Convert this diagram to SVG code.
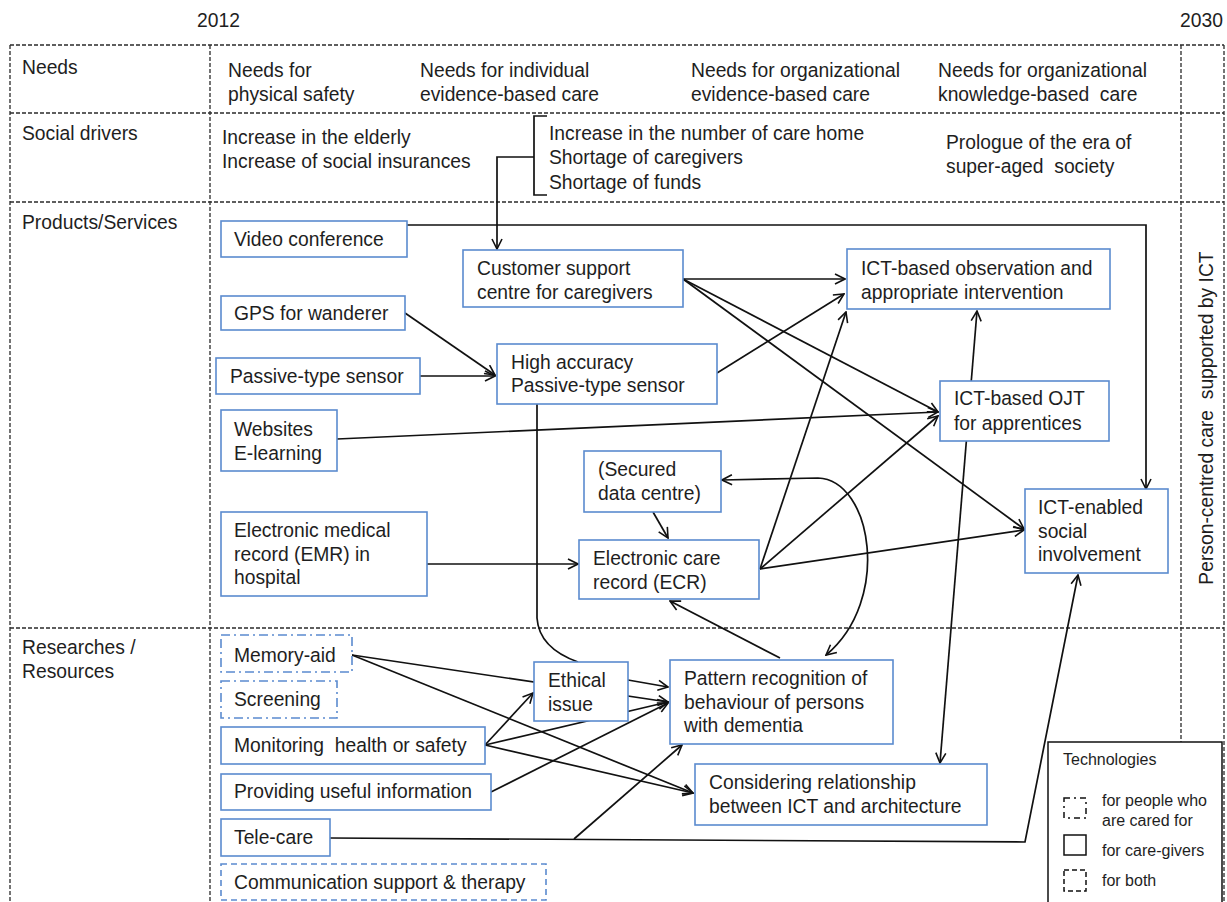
<svg xmlns="http://www.w3.org/2000/svg" width="1227" height="902" viewBox="0 0 1227 902">
  <style>
    .grid { stroke: #2a2a2a; stroke-width: 1.3; stroke-dasharray: 4 2; fill: none; }
    .box { fill: #ffffff; stroke: #5b8bcf; stroke-width: 1.6; }
    .dd { stroke-dasharray: 9 4 2 4; }
    .dash { stroke-dasharray: 6 4; }
    .t { font-family: "Liberation Sans", Arial, sans-serif; font-size: 19.3px; fill: #1e1e1e; }
    .lg { font-family: "Liberation Sans", Arial, sans-serif; font-size: 16px; fill: #1e1e1e; }
    .c { fill: none; stroke: #111111; stroke-width: 1.7; }
    .a { marker-end: url(#arr); }
    .aa { marker-start: url(#arr); marker-end: url(#arr); }
    .li { fill: #ffffff; stroke: #111111; stroke-width: 1.5; }
  </style>
  <defs>
    <marker id="arr" viewBox="0 0 12 12" refX="11" refY="6" markerWidth="12" markerHeight="12" markerUnits="userSpaceOnUse" orient="auto-start-reverse">
      <path d="M1,1 L11,6 L1,11" fill="none" stroke="#111111" stroke-width="1.6"/>
    </marker>
  </defs>
  <rect width="1227" height="902" fill="#ffffff"/>

  <!-- timeline -->
  <text class="t" x="197" y="27">2012</text>
  <text class="t" x="1180" y="27">2030</text>

  <!-- table frame -->
  <g id="table">
    <line class="grid" x1="10" y1="45" x2="1224" y2="45"/>
    <line class="grid" x1="10" y1="113" x2="1224" y2="113"/>
    <line class="grid" x1="10" y1="202" x2="1224" y2="202"/>
    <line class="grid" x1="10" y1="628" x2="1224" y2="628"/>
    <line class="grid" x1="10" y1="45" x2="10" y2="902"/>
    <line class="grid" x1="210" y1="45" x2="210" y2="902"/>
    <line class="grid" x1="1181" y1="45" x2="1181" y2="902"/>
    <line class="grid" x1="1224" y1="45" x2="1224" y2="902"/>
  </g>

  <!-- row headings -->
  <g id="rows">
    <text class="t" x="22" y="74">Needs</text>
    <text class="t" x="22" y="140">Social drivers</text>
    <text class="t" x="22" y="229">Products/Services</text>
    <text class="t" x="22" y="654">Researches /</text>
    <text class="t" x="22" y="678">Resources</text>
  </g>

  <!-- needs -->
  <g id="needs">
    <text class="t" x="228" y="77">Needs for</text>
    <text class="t" x="228" y="101">physical safety</text>
    <text class="t" x="420" y="77">Needs for individual</text>
    <text class="t" x="420" y="101">evidence-based care</text>
    <text class="t" x="691" y="77">Needs for organizational</text>
    <text class="t" x="691" y="101">evidence-based care</text>
    <text class="t" x="938" y="77">Needs for organizational</text>
    <text class="t" x="938" y="101" xml:space="preserve">knowledge-based  care</text>
  </g>

  <!-- social drivers -->
  <g id="drivers">
    <text class="t" x="222" y="144">Increase in the elderly</text>
    <text class="t" x="222" y="168">Increase of social insurances</text>
    <text class="t" x="549" y="140">Increase in the number of care home</text>
    <text class="t" x="549" y="164">Shortage of caregivers</text>
    <text class="t" x="549" y="189">Shortage of funds</text>
    <text class="t" x="946" y="149">Prologue of the era of</text>
    <text class="t" x="946" y="173" xml:space="preserve">super-aged  society</text>
    <path class="c" d="M547,116 H534 V195 H547"/>
  </g>

  <!-- vertical goal label -->
  <text class="t" transform="translate(1213,418) rotate(-90)" text-anchor="middle" xml:space="preserve">Person-centred care  supported by ICT</text>

  <!-- connectors -->
  <g id="connectors">
    <path class="c a" d="M534,157 H497 V249"/>
    <path class="c a" d="M407,225 H1146 V489"/>
    <path class="c a" d="M683,279 L845,279"/>
    <path class="c a" d="M683,279 L938,412"/>
    <path class="c a" d="M683,279 L1024,529"/>
    <path class="c a" d="M405,313 L495,375"/>
    <path class="c a" d="M420,376 L495,376"/>
    <path class="c a" d="M717,373 L844,294"/>
    <path class="c a" d="M337,439 L938,412"/>
    <path class="c" d="M537,404 V618 Q539,648 578,662"/>
    <path class="c a" d="M427,564 L578,564"/>
    <path class="c a" d="M653,512 L668,538"/>
    <path class="c a" d="M760,569 L846,312"/>
    <path class="c a" d="M760,569 L938,416"/>
    <path class="c a" d="M760,569 L1024,530"/>
    <path class="c aa" d="M722,480 L818,478 C872,480 892,600 826,655"/>
    <path class="c a" d="M780,658 L670,601"/>
    <path class="c aa" d="M977,311 L940,763"/>
    <path class="c a" d="M352,655 L668,702"/>
    <path class="c a" d="M352,655 L693,793"/>
    <path class="c a" d="M628,680 L668,687"/>
    <path class="c a" d="M485,745 L533,693"/>
    <path class="c a" d="M485,745 L668,702"/>
    <path class="c a" d="M485,745 L693,793"/>
    <path class="c a" d="M491,792 L668,703"/>
    <path class="c a" d="M574,839 L682,745"/>
    <path class="c a" d="M330,838 L1025,842 L1078,575"/>
  </g>

  <!-- nodes -->
  <g id="video-conference">
    <rect class="box" x="221" y="221" width="186" height="36"/>
    <text class="t" x="234" y="246">Video conference</text>
  </g>
  <g id="customer-support">
    <rect class="box" x="463" y="250" width="220" height="57"/>
    <text class="t" x="477" y="275">Customer support</text>
    <text class="t" x="477" y="299">centre for caregivers</text>
  </g>
  <g id="ict-observation">
    <rect class="box" x="847" y="249" width="263" height="60"/>
    <text class="t" x="861" y="275">ICT-based observation and</text>
    <text class="t" x="861" y="299">appropriate intervention</text>
  </g>
  <g id="gps">
    <rect class="box" x="221" y="296" width="184" height="34"/>
    <text class="t" x="234" y="320">GPS for wanderer</text>
  </g>
  <g id="passive-sensor">
    <rect class="box" x="216" y="358" width="204" height="36"/>
    <text class="t" x="230" y="383">Passive-type sensor</text>
  </g>
  <g id="high-accuracy-sensor">
    <rect class="box" x="497" y="344" width="220" height="60"/>
    <text class="t" x="511" y="369">High accuracy</text>
    <text class="t" x="511" y="392">Passive-type sensor</text>
  </g>
  <g id="ict-ojt">
    <rect class="box" x="940" y="381" width="169" height="60"/>
    <text class="t" x="954" y="405">ICT-based OJT</text>
    <text class="t" x="954" y="430">for apprentices</text>
  </g>
  <g id="websites">
    <rect class="box" x="221" y="410" width="116" height="61"/>
    <text class="t" x="234" y="436">Websites</text>
    <text class="t" x="234" y="460">E-learning</text>
  </g>
  <g id="data-centre">
    <rect class="box" x="584" y="451" width="137" height="61"/>
    <text class="t" x="598" y="476">(Secured</text>
    <text class="t" x="598" y="500">data centre)</text>
  </g>
  <g id="ict-social">
    <rect class="box" x="1025" y="489" width="143" height="84"/>
    <text class="t" x="1038" y="514">ICT-enabled</text>
    <text class="t" x="1038" y="538">social</text>
    <text class="t" x="1038" y="561">involvement</text>
  </g>
  <g id="emr">
    <rect class="box" x="221" y="512" width="206" height="84"/>
    <text class="t" x="234" y="537">Electronic medical</text>
    <text class="t" x="234" y="561">record (EMR) in</text>
    <text class="t" x="234" y="584">hospital</text>
  </g>
  <g id="ecr">
    <rect class="box" x="579" y="540" width="180" height="59"/>
    <text class="t" x="593" y="565">Electronic care</text>
    <text class="t" x="593" y="589">record (ECR)</text>
  </g>
  <g id="memory-aid">
    <rect class="box dd" x="221" y="635" width="131" height="37"/>
    <text class="t" x="234" y="662">Memory-aid</text>
  </g>
  <g id="screening">
    <rect class="box dd" x="221" y="681" width="116" height="37"/>
    <text class="t" x="234" y="706">Screening</text>
  </g>
  <g id="ethical-issue">
    <rect class="box" x="534" y="662" width="94" height="59"/>
    <text class="t" x="548" y="687">Ethical</text>
    <text class="t" x="548" y="711">issue</text>
  </g>
  <g id="pattern-recognition">
    <rect class="box" x="670" y="660" width="223" height="84"/>
    <text class="t" x="684" y="685">Pattern recognition of</text>
    <text class="t" x="684" y="709">behaviour of persons</text>
    <text class="t" x="684" y="732">with dementia</text>
  </g>
  <g id="monitoring">
    <rect class="box" x="221" y="727" width="264" height="37"/>
    <text class="t" x="234" y="752" xml:space="preserve">Monitoring  health or safety</text>
  </g>
  <g id="useful-information">
    <rect class="box" x="221" y="774" width="270" height="36"/>
    <text class="t" x="234" y="798">Providing useful information</text>
  </g>
  <g id="ict-architecture">
    <rect class="box" x="695" y="764" width="292" height="61"/>
    <text class="t" x="709" y="789">Considering relationship</text>
    <text class="t" x="709" y="813">between ICT and architecture</text>
  </g>
  <g id="tele-care">
    <rect class="box" x="221" y="819" width="109" height="37"/>
    <text class="t" x="234" y="844">Tele-care</text>
  </g>
  <g id="communication-support">
    <rect class="box dash" x="221" y="864" width="325" height="36"/>
    <text class="t" x="234" y="889">Communication support &amp; therapy</text>
  </g>

  <!-- legend -->
  <g id="legend">
    <rect x="1048" y="742" width="174" height="170" fill="#ffffff" stroke="#111111" stroke-width="1.5"/>
    <text class="lg" x="1063" y="765">Technologies</text>
    <rect class="li" x="1064" y="798" width="22" height="20" stroke-dasharray="6 4 2 4"/>
    <text class="lg" x="1102" y="806">for people who</text>
    <text class="lg" x="1102" y="826">are cared for</text>
    <rect class="li" x="1064" y="835" width="22" height="20"/>
    <text class="lg" x="1102" y="856">for care-givers</text>
    <rect class="li" x="1064" y="870" width="22" height="21" stroke-dasharray="5 3"/>
    <text class="lg" x="1102" y="886">for both</text>
  </g>
</svg>
